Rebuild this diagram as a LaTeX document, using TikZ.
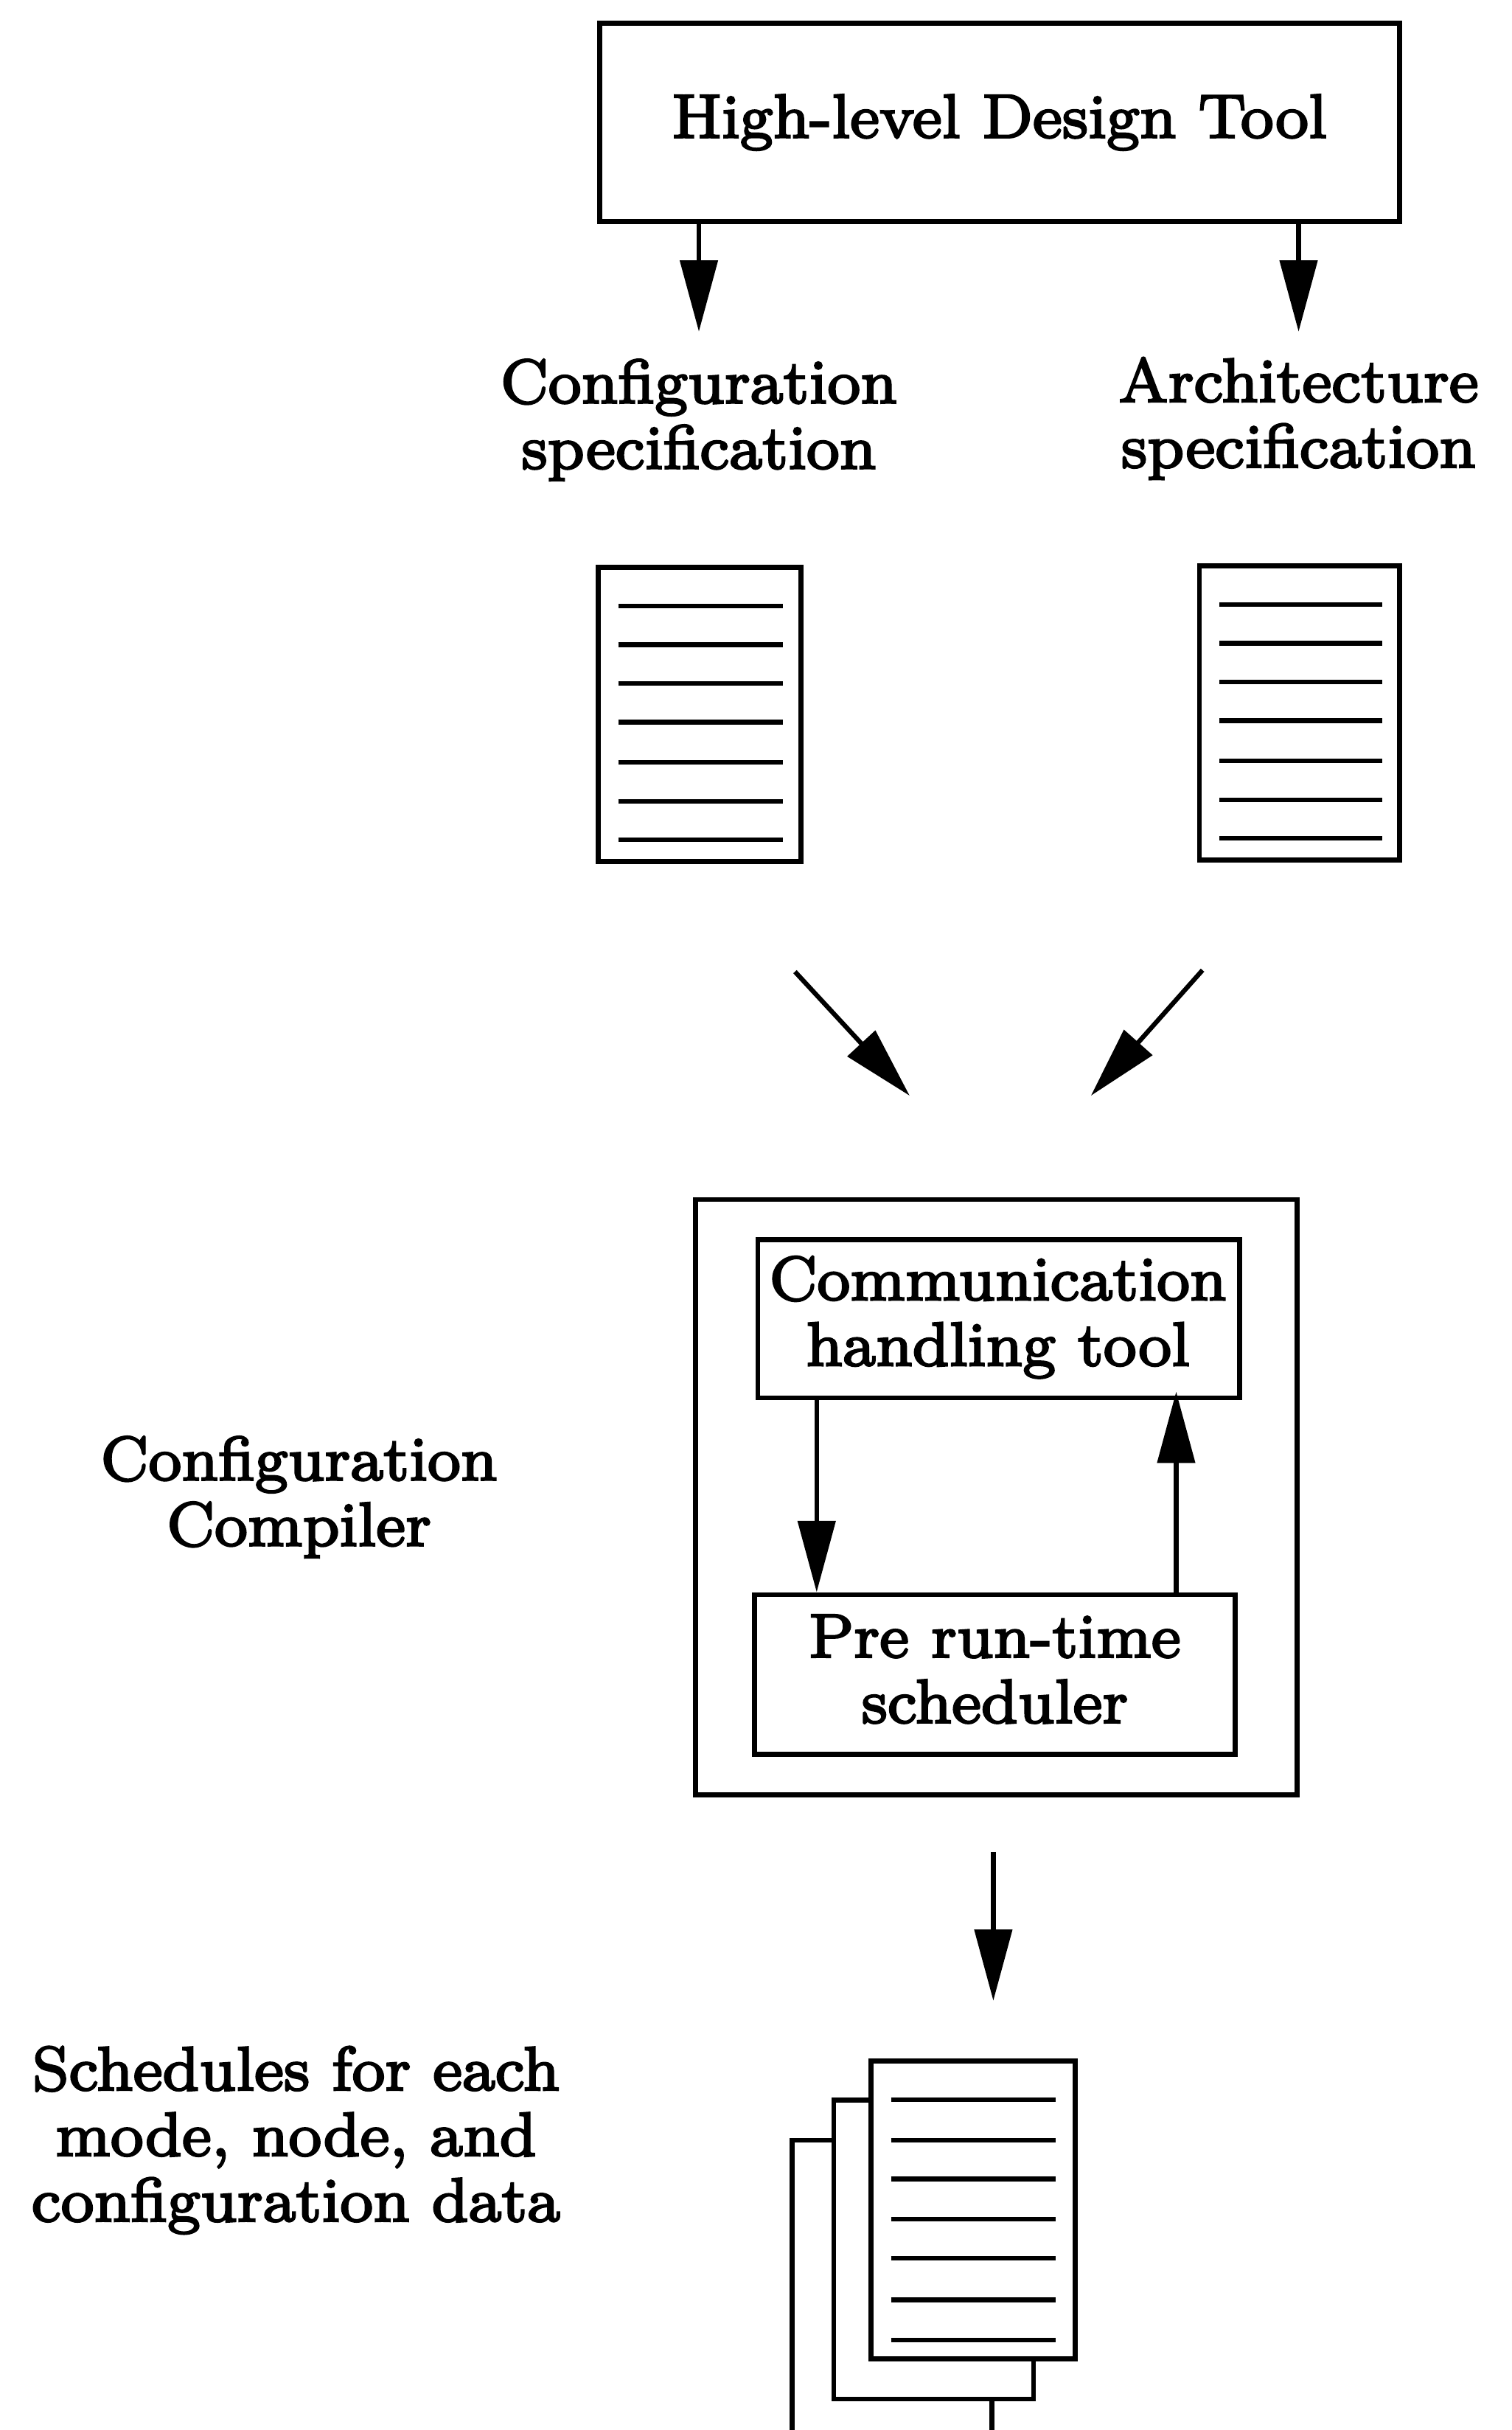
\documentclass[tikz,border=0pt]{standalone}
\usetikzlibrary{arrows.meta}
\font\lblfont="[lmroman8-regular.otf]:embolden=3" at 8pt
\newcommand{\lblset}{\lblfont\baselineskip 8.43pt\relax}
\tikzset{
  box/.style={draw,line width=3.2pt,rectangle,inner sep=0pt,fill=white},
  lbl/.style={align=center,scale=5.02,inner sep=0pt,font=\lblset},
  flow/.style={line width=3pt,-{Triangle[length=46pt,width=24pt]}},
  rule/.style={line width=3pt}
}
\begin{document}
\begin{tikzpicture}[x=1pt,y=-1pt]
\useasboundingbox (0,0) rectangle (975.7,1568);
\fill[white] (0,0) rectangle (975.7,1568);
% top box
\node[box,minimum width=516pt,minimum height=128pt] (hl) at (645,79) {};
\node[lbl] (hlt) at (645,79) {High-level Design Tool};
\coordinate (ca) at (451,214);
\coordinate (aa) at (838,214);
\draw[flow] (hl.south -| ca) -- (ca);
\draw[flow] (hl.south -| aa) -- (aa);
\node[lbl] (cs) at (451,271) {Configuration\\specification};
\node[lbl] (as) at (838,270) {Architecture\\specification};
% spec documents
\node[box,minimum width=131pt,minimum height=190pt] (d1) at (451.5,461) {};
\node[box,minimum width=129pt,minimum height=190pt] (d2) at (838.5,460) {};
\foreach \yy in {391,416,441,466,492,517,542}{\draw[rule] (399,\yy)--(505,\yy);}
\foreach \yy in {390,415,440,465,491,516,541}{\draw[rule] (787,\yy)--(892,\yy);}
% converging arrows
\coordinate (m1s) at (513,627);
\coordinate (m1e) at (587,707);
\coordinate (m2s) at (776,626);
\coordinate (m2e) at (704,707);
\draw[flow] (m1s) -- (m1e);
\draw[flow] (m2s) -- (m2e);
% compiler
\node[box,minimum width=388pt,minimum height=384pt] (cc) at (643,966) {};
\node[box,minimum width=311pt,minimum height=102pt] (ch) at (644.5,851) {};
\node[box,minimum width=310pt,minimum height=103pt] (pr) at (642,1080.5) {};
\node[lbl] (cht) at (644,850) {Communication\\handling tool};
\node[lbl] (prt) at (642,1077) {Pre run-time\\scheduler};
\draw[flow] (ch.south -| 527,0) -- (pr.north -| 527,0);
\draw[flow] (pr.north -| 759,0) -- (759,898);
\node[lbl] (ccl) at (193,966) {Configuration\\Compiler};
% output
\coordinate (os) at (641,1195);
\coordinate (oe) at (641,1291);
\draw[flow] (os) -- (oe);
\node[lbl] (sch) at (191,1381) {Schedules for each\\mode, node, and\\configuration data};
% stacked pages
\draw[line width=3.2pt] (511,1568) -- (511,1381) -- (538,1381);
\draw[line width=3.2pt] (640,1548) -- (640,1568);
\draw[line width=3.2pt] (562,1355) -- (538,1355) -- (538,1548) -- (667,1548) -- (667,1522);
\node[box,minimum width=132pt,minimum height=192pt] (p1) at (628,1426) {};
\foreach \yy in {1355,1381,1406,1432,1457,1484,1510}{\draw[rule] (575,\yy)--(681,\yy);}
\end{tikzpicture}
\end{document}
